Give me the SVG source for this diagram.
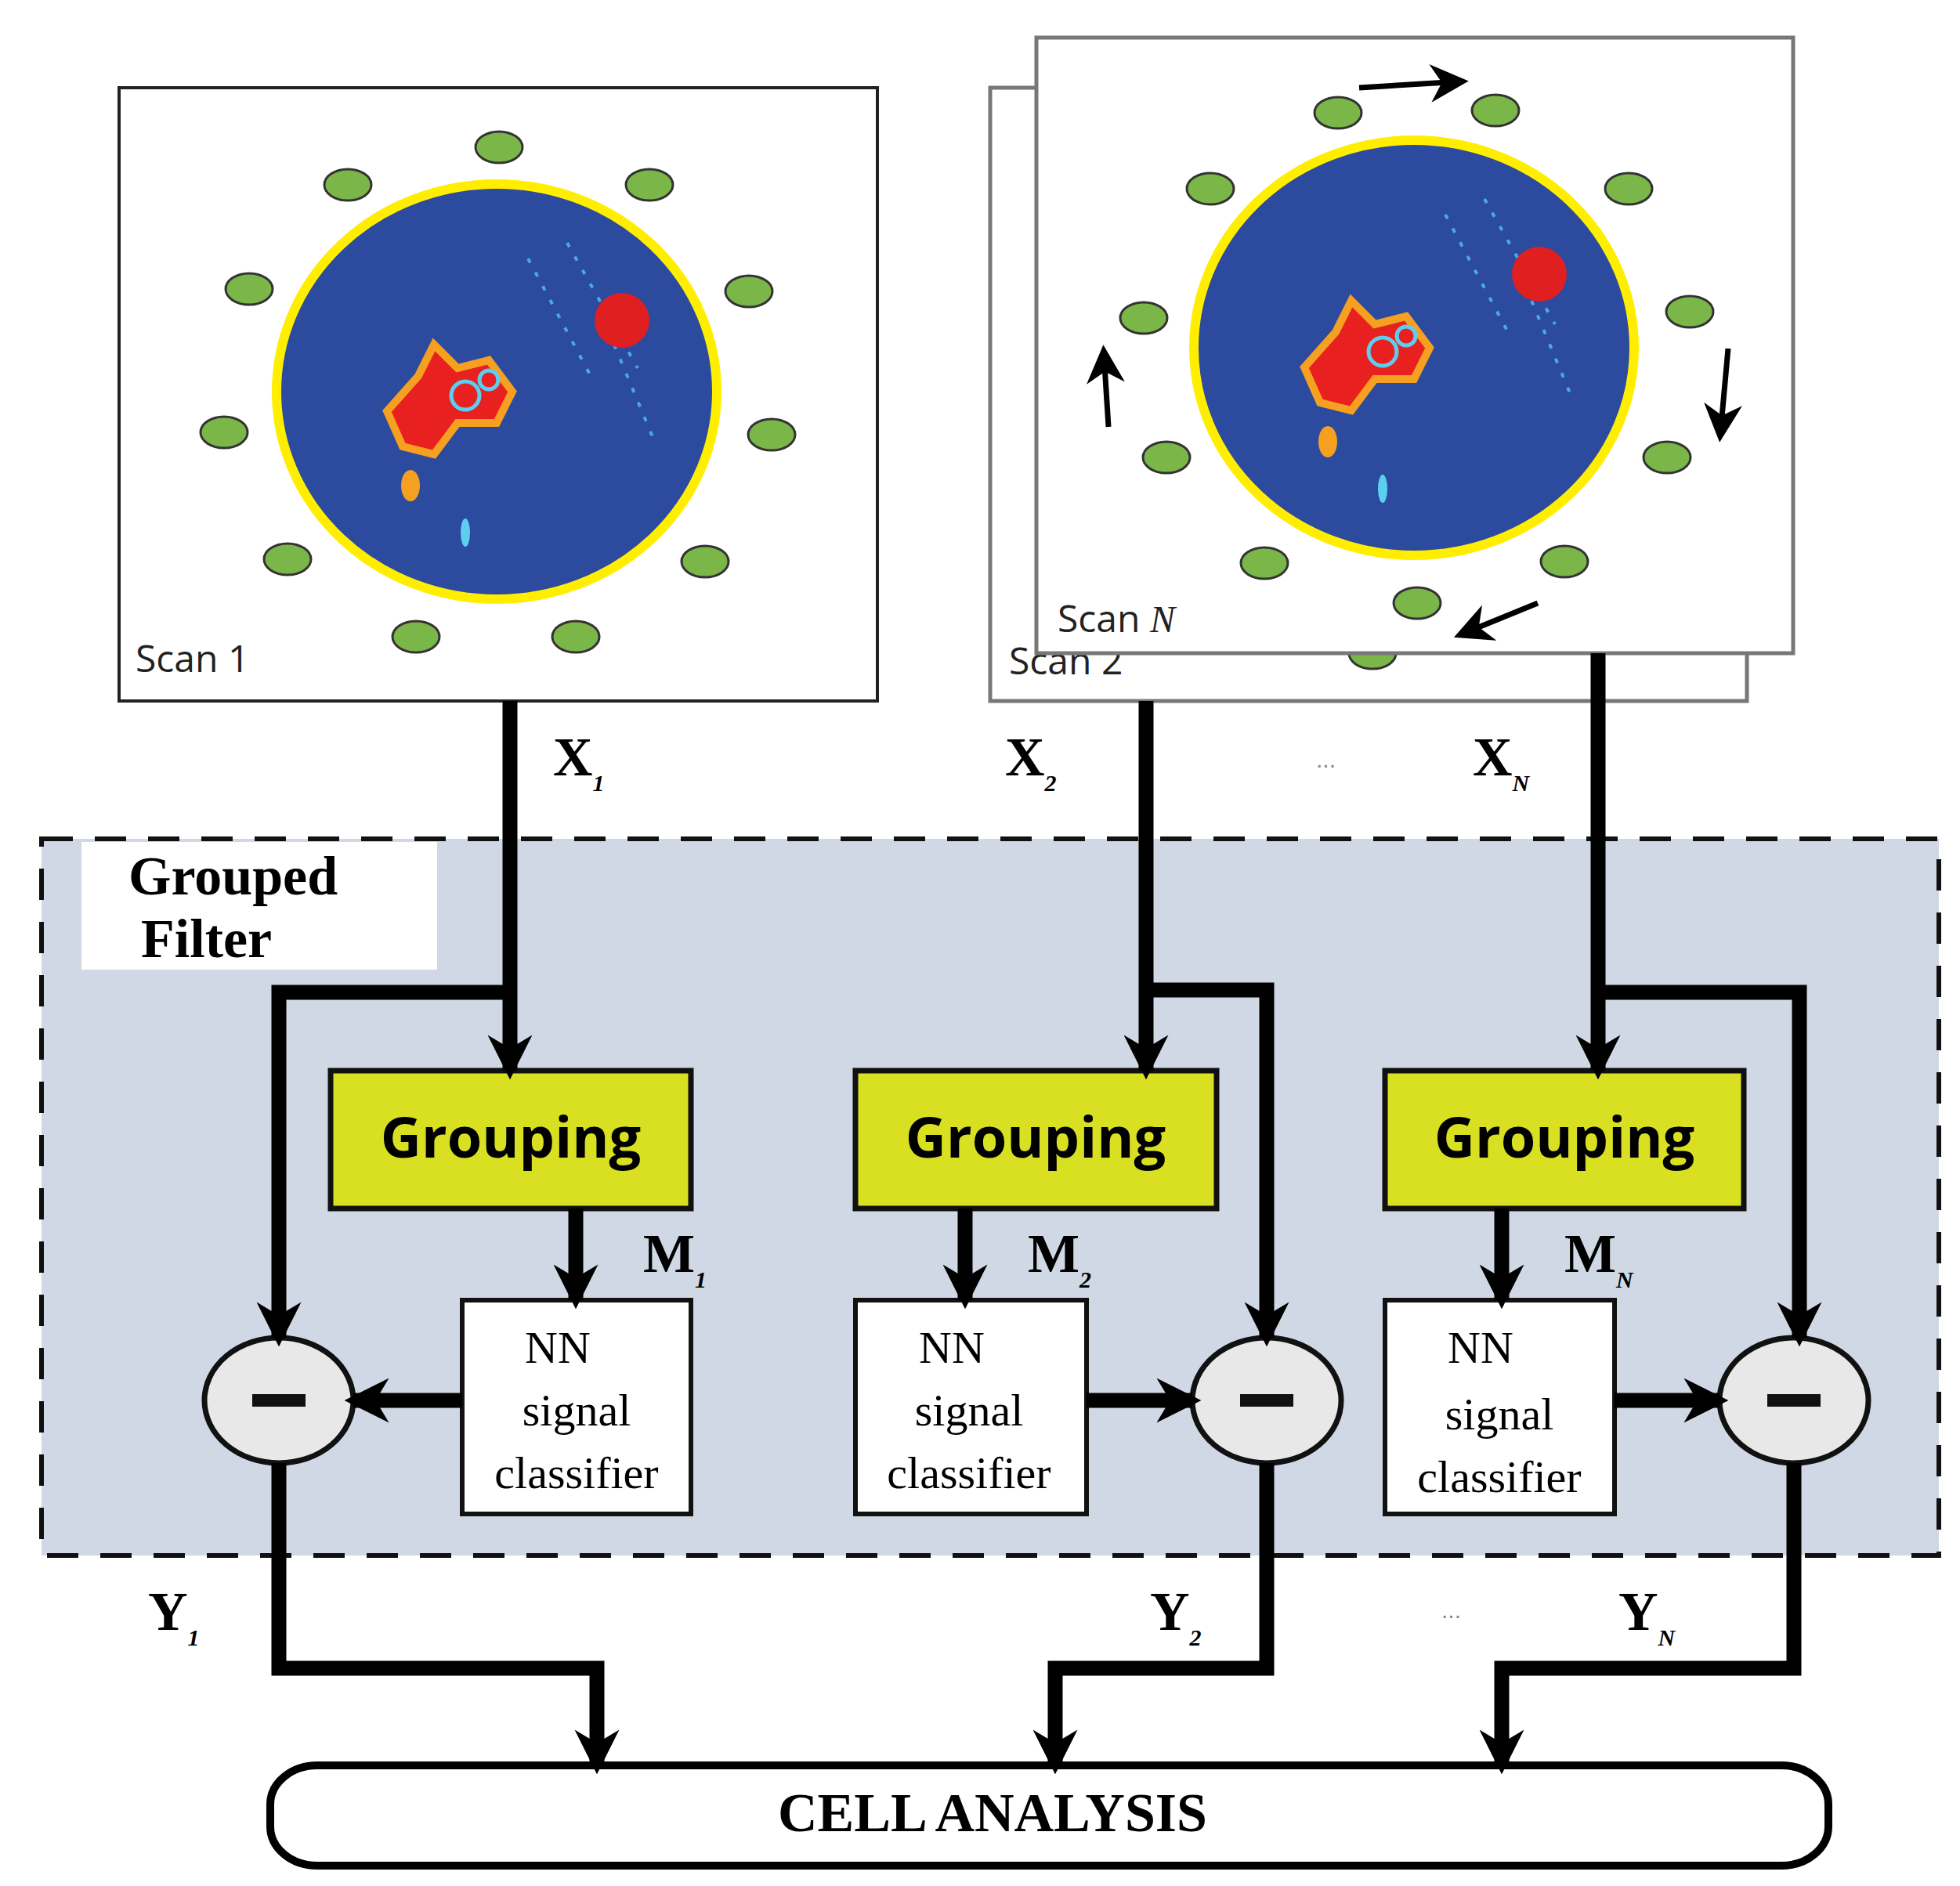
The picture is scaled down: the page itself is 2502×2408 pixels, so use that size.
<svg xmlns="http://www.w3.org/2000/svg" width="2502" height="2408" viewBox="0 0 2502 2408">
<style>
.ln{fill:none;stroke:#000;stroke-width:19}
.gr{fill:#7ab648;stroke:#333;stroke-width:3}
.scan{fill:#fff;stroke:#777;stroke-width:5}
.lbl{font-family:"Liberation Serif",serif;font-weight:bold;font-size:70px}
.sub{font-family:"Liberation Serif",serif;font-style:italic;font-size:30px}
.grp{fill:#d9e021;stroke:#111;stroke-width:7}
.gt{font-family:"Open Sans",sans-serif;font-weight:bold;font-size:72px;text-anchor:middle}
.nn{fill:#fff;stroke:#111;stroke-width:6}
.nt{font-family:"Liberation Serif",serif;font-size:58px;text-anchor:middle}
.st{font-family:"Open Sans",sans-serif;font-size:48px;fill:#222}
.dots{font-family:"Liberation Sans",sans-serif;font-size:30px;fill:#888}
</style>
<defs>
<marker id="ah" viewBox="0 0 10 10" refX="8" refY="5" markerWidth="3" markerHeight="3" orient="auto" markerUnits="strokeWidth"><path d="M0,0 L10,5 L0,10 L3,5 z" fill="#000"/></marker>
<marker id="sa" viewBox="0 0 10 10" refX="8" refY="5" markerWidth="7" markerHeight="7" orient="auto" markerUnits="strokeWidth"><path d="M0,0 L10,5 L0,10 L3,5 z" fill="#000"/></marker>
<g id="cell">
<ellipse cx="0" cy="0" rx="281" ry="265" fill="#2c4a9e" stroke="#ffee00" stroke-width="12"/>
<path d="M-140,25 L-100,-20 L-80,-60 L-50,-30 L-10,-40 L20,0 L0,40 L-50,40 L-80,80 L-120,70 Z" fill="#e82020" stroke="#f5a020" stroke-width="10"/>
<circle cx="-40" cy="5" r="18" fill="none" stroke="#5ccff0" stroke-width="5"/>
<circle cx="-10" cy="-15" r="12" fill="none" stroke="#5ccff0" stroke-width="5"/>
<path d="M40,-170 L120,-20 M90,-190 L180,-30 M150,-60 L200,60" stroke="#4aa8e8" stroke-width="4" stroke-dasharray="6 14" fill="none"/>
<ellipse cx="-110" cy="120" rx="12" ry="20" fill="#f5a020"/>
<ellipse cx="-40" cy="180" rx="6" ry="18" fill="#5ccff0"/>
</g>
</defs>
<rect width="2502" height="2408" fill="#fff"/>
<g id="filter-region">
<rect x="53" y="1071" width="2422" height="915" fill="#cfd8e4" stroke="#111" stroke-width="6" stroke-dasharray="40 28"/>
<rect x="104" y="1075" width="454" height="163" fill="#fff"/>
<text class="lbl" x="164" y="1142" font-size="67">Grouped</text>
<text class="lbl" x="180" y="1222" font-size="67">Filter</text>
</g>
<g id="scan1">
<rect x="152" y="112" width="968" height="783" fill="#fff" stroke="#222" stroke-width="4"/>
<use href="#cell" x="634" y="500"/>
<circle cx="794" cy="409" r="35" fill="#e02020"/>
<g class="gr">
<ellipse cx="637" cy="188" rx="30" ry="20"/><ellipse cx="444" cy="236" rx="30" ry="20"/><ellipse cx="829" cy="236" rx="30" ry="20"/>
<ellipse cx="318" cy="369" rx="30" ry="20"/><ellipse cx="956" cy="372" rx="30" ry="20"/><ellipse cx="286" cy="552" rx="30" ry="20"/>
<ellipse cx="985" cy="555" rx="30" ry="20"/><ellipse cx="367" cy="714" rx="30" ry="20"/><ellipse cx="900" cy="717" rx="30" ry="20"/>
<ellipse cx="531" cy="813" rx="30" ry="20"/><ellipse cx="735" cy="813" rx="30" ry="20"/>
</g>
<text class="st" x="173" y="858">Scan 1</text>
</g>
<g id="scan2">
<rect x="1264" y="112" width="966" height="783" class="scan" stroke="#222"/>
<ellipse cx="1752" cy="834" rx="30" ry="20" class="gr"/>
<text class="st" x="1288" y="861">Scan 2</text>
</g>
<g id="scanN">
<rect x="1323" y="48" width="966" height="786" class="scan"/>
<use href="#cell" x="1805" y="444"/>
<circle cx="1965" cy="350" r="35" fill="#e02020"/>
<g class="gr">
<ellipse cx="1708" cy="144" rx="30" ry="20"/><ellipse cx="1909" cy="141" rx="30" ry="20"/><ellipse cx="1545" cy="241" rx="30" ry="20"/>
<ellipse cx="2079" cy="241" rx="30" ry="20"/><ellipse cx="1460" cy="406" rx="30" ry="20"/><ellipse cx="2157" cy="398" rx="30" ry="20"/>
<ellipse cx="1489" cy="584" rx="30" ry="20"/><ellipse cx="2128" cy="584" rx="30" ry="20"/><ellipse cx="1614" cy="719" rx="30" ry="20"/>
<ellipse cx="1997" cy="717" rx="30" ry="20"/><ellipse cx="1809" cy="770" rx="30" ry="20"/>
</g>
<g stroke="#000" stroke-width="7" fill="none" marker-end="url(#sa)">
<path d="M1735,112 L1865,104"/><path d="M2206,445 L2196,555"/><path d="M1963,770 L1865,810"/><path d="M1415,545 L1409,450"/>
</g>
<text class="st" x="1350" y="807">Scan <tspan font-style="italic" font-family="Liberation Serif,serif">N</tspan></text>
</g>
<g id="grouping1"><rect class="grp" x="422" y="1367" width="460" height="176"/><text class="gt" x="652" y="1478">Grouping</text></g>
<g id="grouping2"><rect class="grp" x="1092" y="1367" width="461" height="176"/><text class="gt" x="1322" y="1478">Grouping</text></g>
<g id="grouping3"><rect class="grp" x="1768" y="1367" width="458" height="176"/><text class="gt" x="1997" y="1478">Grouping</text></g>
<g id="nn1"><rect class="nn" x="590" y="1660" width="292" height="273"/><text class="nt"><tspan x="712" y="1740">NN</tspan><tspan x="736" y="1820">signal</tspan><tspan x="736" y="1900">classifier</tspan></text></g>
<g id="nn2"><rect class="nn" x="1092" y="1660" width="295" height="273"/><text class="nt"><tspan x="1215" y="1740">NN</tspan><tspan x="1237" y="1820">signal</tspan><tspan x="1237" y="1900">classifier</tspan></text></g>
<g id="nn3"><rect class="nn" x="1768" y="1660" width="293" height="273"/><text class="nt"><tspan x="1890" y="1740">NN</tspan><tspan x="1914" y="1825">signal</tspan><tspan x="1914" y="1905">classifier</tspan></text></g>
<g id="sub1"><ellipse cx="356" cy="1788" rx="95" ry="80" fill="#e8e8e8" stroke="#111" stroke-width="7"/><rect x="322" y="1780" width="68" height="16" fill="#111"/></g>
<g id="sub2"><ellipse cx="1617" cy="1788" rx="95" ry="80" fill="#e8e8e8" stroke="#111" stroke-width="7"/><rect x="1583" y="1780" width="68" height="16" fill="#111"/></g>
<g id="sub3"><ellipse cx="2290" cy="1788" rx="95" ry="80" fill="#e8e8e8" stroke="#111" stroke-width="7"/><rect x="2256" y="1780" width="68" height="16" fill="#111"/></g>
<g id="cellanalysis">
<rect x="345" y="2254" width="1989" height="128" rx="60" ry="50" fill="#fff" stroke="#000" stroke-width="10"/>
<text class="lbl" x="1267" y="2338" font-size="60" text-anchor="middle">CELL ANALYSIS</text>
</g>
<g id="connectors">
<path class="ln" d="M651,895 V1367" marker-end="url(#ah)"/>
<path class="ln" d="M651,1267 H356 V1708" marker-end="url(#ah)"/>
<path class="ln" d="M1463,895 V1367" marker-end="url(#ah)"/>
<path class="ln" d="M1463,1264 H1617 V1708" marker-end="url(#ah)"/>
<path class="ln" d="M2040,834 V1367" marker-end="url(#ah)"/>
<path class="ln" d="M2040,1267 H2297 V1708" marker-end="url(#ah)"/>
<path class="ln" d="M735,1543 V1660" marker-end="url(#ah)"/>
<path class="ln" d="M1232,1543 V1660" marker-end="url(#ah)"/>
<path class="ln" d="M1917,1543 V1660" marker-end="url(#ah)"/>
<path class="ln" d="M590,1788 H451" marker-end="url(#ah)"/>
<path class="ln" d="M1387,1788 H1522" marker-end="url(#ah)"/>
<path class="ln" d="M2061,1788 H2195" marker-end="url(#ah)"/>
<path class="ln" d="M356,1868 V2130 H762 V2254" marker-end="url(#ah)"/>
<path class="ln" d="M1617,1868 V2130 H1347 V2254" marker-end="url(#ah)"/>
<path class="ln" d="M2290,1868 V2130 H1917 V2254" marker-end="url(#ah)"/>
</g>
<g id="labels">
<text class="lbl" x="706" y="990">X<tspan class="sub" dy="20">1</tspan></text>
<text class="lbl" x="1283" y="990">X<tspan class="sub" dy="20">2</tspan></text>
<text class="lbl" x="1880" y="990">X<tspan class="sub" dy="20">N</tspan></text>
<text class="dots" x="1680" y="980">...</text>
<text class="lbl" x="821" y="1624">M<tspan class="sub" dy="20">1</tspan></text>
<text class="lbl" x="1312" y="1624">M<tspan class="sub" dy="20">2</tspan></text>
<text class="lbl" x="1997" y="1624">M<tspan class="sub" dy="20">N</tspan></text>
<text class="lbl" x="189" y="2081">Y<tspan class="sub" dy="20">1</tspan></text>
<text class="lbl" x="1468" y="2081">Y<tspan class="sub" dy="20">2</tspan></text>
<text class="lbl" x="2066" y="2081">Y<tspan class="sub" dy="20">N</tspan></text>
<text class="dots" x="1840" y="2066">...</text>
</g>
</svg>
